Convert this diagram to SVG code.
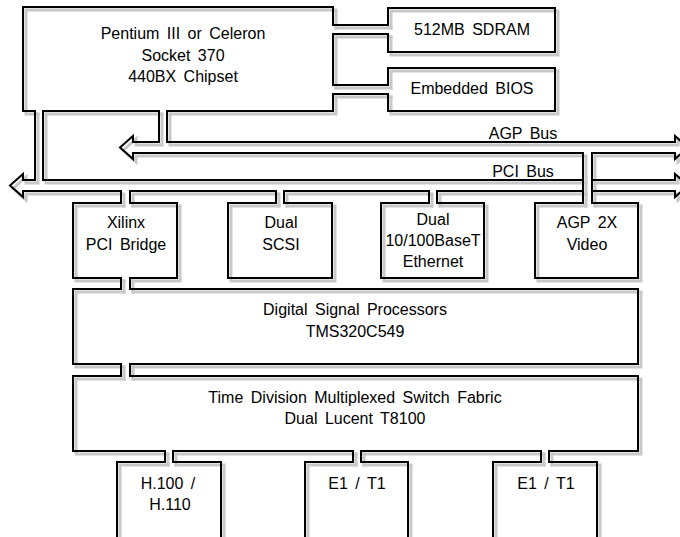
<svg xmlns="http://www.w3.org/2000/svg" xmlns:xlink="http://www.w3.org/1999/xlink" width="680" height="537" viewBox="0 0 680 537">
<style>
.ln{fill:none;stroke-linejoin:miter;stroke-linecap:square}
.t{stroke:none;font-family:"Liberation Sans",Arial,sans-serif;font-size:16px;word-spacing:3px;text-anchor:middle}
</style>
<rect width="680" height="537" fill="#fff"/>
<use xlink:href="#art" href="#art" transform="translate(3,3)" stroke="#c8c8c8" stroke-width="3" fill="none"/>
<g stroke="#000" stroke-width="2" fill="#000">
<g id="art">
<g id="connectors">
<path class="ln" d="M333,25 H388 M333,34 H388"/>
<path class="ln" d="M333,85 H388 M333,94 H388"/>
<path class="ln" d="M159,111 V142 H133 V136 L120,147.5 L133,159 V153 H583 V203 M592,203 V153 H675 V159 L688,147.5 L675,136 V142 H167 V111"/>
<path class="ln" d="M35,111 V180 H23 V174 L10,185.5 L23,197 V191 H121 V203 M130,203 V191 H276 V203 M284,203 V191 H429 V203 M437,203 V191 H583 M592,191 H675 V197 L688,185.5 L675,174 V180 H592 M583,180 H43 V111"/>
<path class="ln" d="M121,278 V289 M130,278 V289"/>
<path class="ln" d="M121,364 V376 M130,364 V376"/>
<path class="ln" d="M165,451 V462 M173,451 V462"/>
<path class="ln" d="M353,451 V462 M361,451 V462"/>
<path class="ln" d="M541,451 V462 M549,451 V462"/>
<text class="t" x="523" y="139">AGP Bus</text>
<text class="t" x="523" y="177">PCI Bus</text>
</g>
<g id="cpu">
<path class="ln" d="M35,111 H23 V7 H333 V25 M333,34 V85 M333,94 V111 H167 M159,111 H43"/>
<text class="t" x="183" y="39">Pentium III or Celeron</text>
<text class="t" x="183" y="61">Socket 370</text>
<text class="t" x="183" y="82">440BX Chipset</text>
</g>
<g id="sdram">
<path class="ln" d="M388,25 V8 H555 V52 H388 V34"/>
<text class="t" x="472" y="35">512MB SDRAM</text>
</g>
<g id="bios">
<path class="ln" d="M388,85 V68 H555 V111 H388 V94"/>
<text class="t" x="472" y="94">Embedded BIOS</text>
</g>
<g id="xilinx">
<path class="ln" d="M121,203 H73 V278 H121 M130,278 H177 V203 H130"/>
<text class="t" x="126" y="228">Xilinx</text>
<text class="t" x="126" y="250">PCI Bridge</text>
</g>
<g id="scsi">
<path class="ln" d="M276,203 H228 V278 H332 V203 H284"/>
<text class="t" x="281" y="228">Dual</text>
<text class="t" x="281" y="250">SCSI</text>
</g>
<g id="ethernet">
<path class="ln" d="M429,203 H381 V278 H484 V203 H437"/>
<text class="t" x="433" y="225">Dual</text>
<text class="t" x="433" y="246">10/100BaseT</text>
<text class="t" x="433" y="267">Ethernet</text>
</g>
<g id="agpvideo">
<path class="ln" d="M583,203 H535 V278 H638 V203 H592"/>
<text class="t" x="587" y="228">AGP 2X</text>
<text class="t" x="587" y="250">Video</text>
</g>
<g id="dsp">
<path class="ln" d="M121,289 H73 V364 H121 M130,364 H638 V289 H130"/>
<text class="t" x="355" y="315">Digital Signal Processors</text>
<text class="t" x="355" y="337">TMS320C549</text>
</g>
<g id="tdm">
<path class="ln" d="M121,376 H73 V451 H165 M173,451 H353 M361,451 H541 M549,451 H638 V376 H130"/>
<text class="t" x="355" y="403">Time Division Multiplexed Switch Fabric</text>
<text class="t" x="355" y="424">Dual Lucent T8100</text>
</g>
<g id="h100">
<path class="ln" d="M165,462 H117 V545 H221 V462 H173"/>
<text class="t" x="168" y="489">H.100 /</text>
<text class="t" x="170" y="510">H.110</text>
</g>
<g id="e1t1a">
<path class="ln" d="M353,462 H305 V545 H408 V462 H361"/>
<text class="t" x="357" y="489">E1 / T1</text>
</g>
<g id="e1t1b">
<path class="ln" d="M541,462 H493 V545 H597 V462 H549"/>
<text class="t" x="546" y="489">E1 / T1</text>
</g>
</g>
</g>
</svg>
